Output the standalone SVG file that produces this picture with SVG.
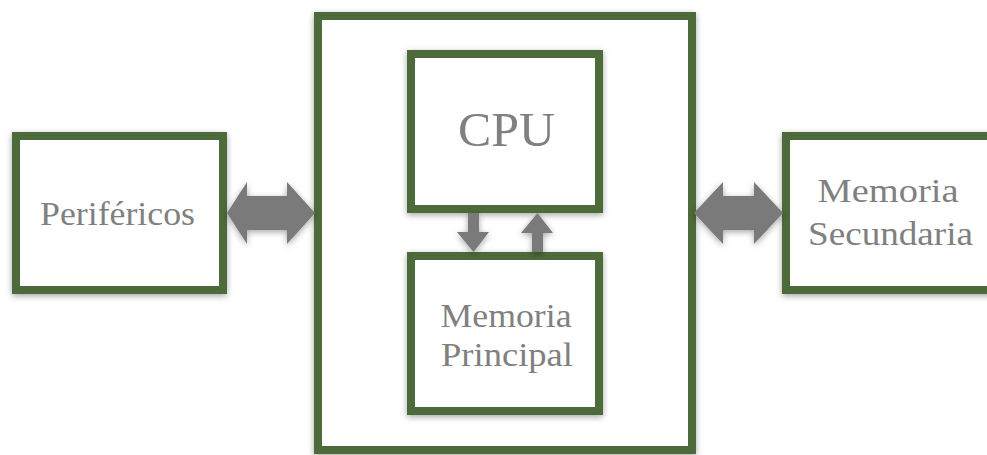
<svg xmlns="http://www.w3.org/2000/svg" width="987" height="455" viewBox="0 0 987 455">
  <defs>
    <filter id="shadow" x="-20%" y="-20%" width="140%" height="140%">
      <feDropShadow dx="0" dy="2" stdDeviation="3" flood-color="#000" flood-opacity="0.35"/>
    </filter>
  </defs>
  <style>
    .box { fill: #ffffff; stroke: #4e6a3b; stroke-width: 8; filter: url(#shadow); }
    .arrow { fill: #7a7a7a; filter: url(#shadow); }
    .label { font-family: 'Liberation Serif', 'DejaVu Serif', serif; fill: #808080; text-anchor: middle; }
  </style>
  <rect width="987" height="455" fill="#ffffff"/>

  <!-- computer enclosure -->
  <g id="computer">
    <rect class="box" x="318" y="16" width="374" height="434"/>
  </g>

  <g id="perifericos">
    <rect class="box" x="16" y="136" width="207" height="154"/>
    <text class="label" x="117.5" y="225" font-size="34" textLength="155" lengthAdjust="spacingAndGlyphs">Periféricos</text>
  </g>

  <g id="memoria-secundaria">
    <rect class="box" x="786" y="136" width="215" height="154"/>
    <text class="label" x="888" y="202" font-size="34" textLength="141" lengthAdjust="spacingAndGlyphs">Memoria</text>
    <text class="label" x="890.5" y="245" font-size="34" textLength="165" lengthAdjust="spacingAndGlyphs">Secundaria</text>
  </g>

  <g id="cpu">
    <rect class="box" x="411" y="54" width="188" height="155"/>
    <text class="label" x="506.5" y="146" font-size="48" textLength="97" lengthAdjust="spacingAndGlyphs">CPU</text>
  </g>

  <g id="memoria-principal">
    <rect class="box" x="411" y="256" width="188" height="155"/>
    <text class="label" x="506" y="327" font-size="33" textLength="131" lengthAdjust="spacingAndGlyphs">Memoria</text>
    <text class="label" x="507" y="366" font-size="33" textLength="132" lengthAdjust="spacingAndGlyphs">Principal</text>
  </g>

  <!-- connectors -->
  <g id="connectors">
    <polygon class="arrow" points="227,213 247,182 247,196 287,196 287,182 315,213 287,244 287,230 247,230 247,244"/>
    <polygon class="arrow" points="694,213 723,182 723,196 754,196 754,182 783,213 754,244 754,230 723,230 723,244"/>
    <polygon class="arrow" points="468,213 479,213 479,232 489,232 473.5,252 457,232 468,232"/>
    <polygon class="arrow" points="532,252 543,252 543,233 553,233 537.5,213 521,233 532,233"/>
  </g>
</svg>
